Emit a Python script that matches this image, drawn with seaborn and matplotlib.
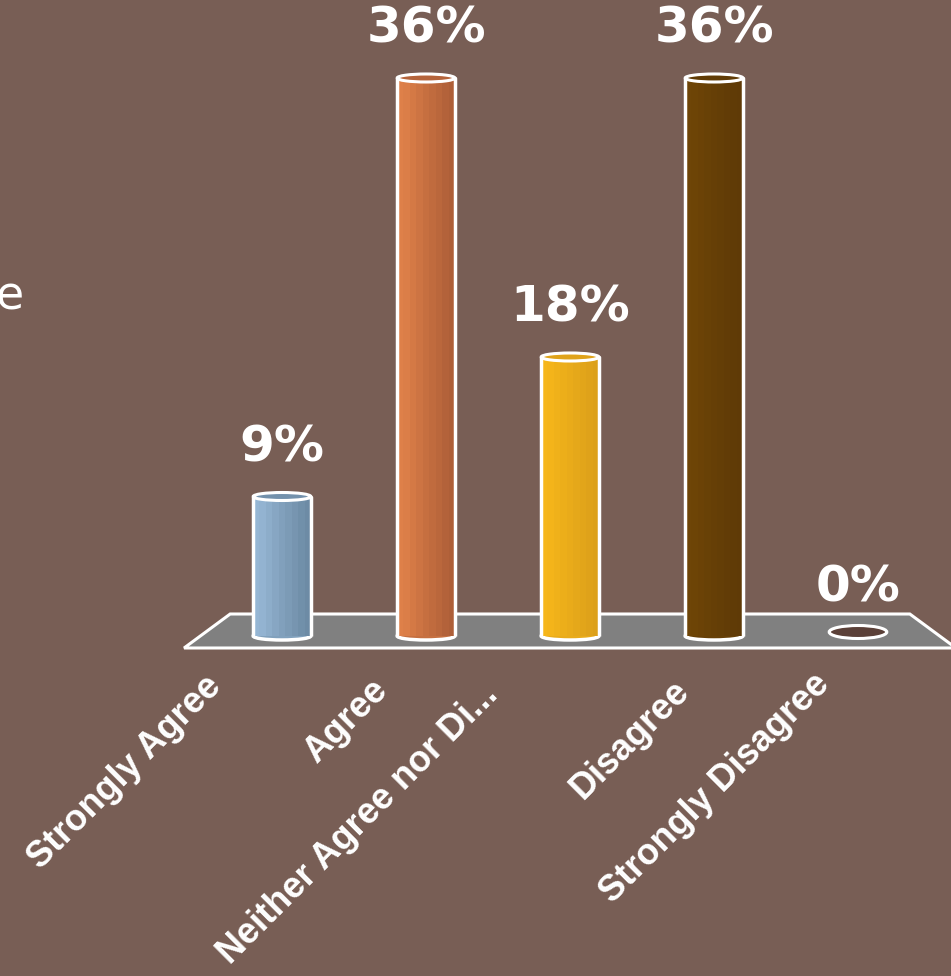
import numpy as np
import pandas as pd
import seaborn as sns
import matplotlib
matplotlib.use("Agg")
import matplotlib.pyplot as plt
import matplotlib.colors as mcolors
from matplotlib.patches import Polygon, Ellipse

# ---- data ----
categories = ["Strongly Agree", "Agree", "Neither Agree nor Di...", "Disagree", "Strongly Disagree"]
values = [9, 36, 18, 36, 0]
value_labels = ["9%", "36%", "18%", "36%", "0%"]
colors_light = ["#95b6d4", "#de8049", "#f6b61a", "#6e4507", "#5b4038"]
colors_dark = ["#6d8ba5", "#ae5f38", "#dca01a", "#5f3a06", "#5b4038"]

# ---- style / layout ----
BG = "#785E55"
FLOOR = "#808080"
W, H, DPI = 951, 976, 100
label_dx_px = [-78, -56, -90, -42, -46]   # staggered category label placement
label_dy_px = [-4, -8, -12, -8, -2]

sns.set_theme(style="white")
plt.rcParams['font.family'] = ['DejaVu Sans']

zero_px = 636.0
px_per = 15.5
axes_bottom_px = 665.0
first_px = 282.0
step_px = 144.0

fig = plt.figure(figsize=(W / DPI, H / DPI), dpi=DPI, facecolor=BG)
ax = fig.add_axes([0, 1 - axes_bottom_px / H, 1, axes_bottom_px / H])
ax.set_facecolor(BG)

df = pd.DataFrame({"cat": categories, "val": values})
sns.barplot(data=df, x="cat", y="val", hue="cat", palette=colors_light,
            width=0.4, legend=False, ax=ax, saturation=1, linewidth=0, zorder=3)
bars = list(ax.patches)

ax.set_xlim(-first_px / step_px, (W - first_px) / step_px)
ax.set_ylim(-(axes_bottom_px - zero_px) / px_per, zero_px / px_per)
ax.axis("off")

n = len(categories)
# floor of the 3D chart
floor_top = (zero_px - 614) / px_per
floor_bot = (zero_px - 648) / px_per
floor = Polygon([(-0.36, floor_top), (n - 1 + 0.36, floor_top),
                 (n - 1 + 0.68, floor_bot), (-0.68, floor_bot)],
                closed=True, facecolor=FLOOR, edgecolor="white", lw=2.2, zorder=1)
ax.add_patch(floor)

cap_h = 8.0 / px_per
for i, (bar, v) in enumerate(zip(bars, values)):
    x0 = bar.get_x()
    w = bar.get_width()
    x1 = x0 + w
    cx = x0 + w / 2
    if v <= 0:
        bar.set_visible(False)
        ell = Ellipse((cx, 4.0 / px_per), w, 13.0 / px_per, facecolor=colors_light[i],
                      edgecolor="white", lw=2.2, zorder=4)
        ax.add_patch(ell)
        continue
    c1 = np.array(mcolors.to_rgb(colors_light[i]))
    c2 = np.array(mcolors.to_rgb(colors_dark[i]))
    t = np.array([0.0, 0.05, 0.2, 0.35, 0.5, 0.62, 0.75, 0.88, 1.0])
    bands = c1[None, :] * (1 - t[:, None]) + c2[None, :] * t[:, None]
    img = ax.imshow(bands[None, :, :], extent=[x0, x1, 0, v], aspect="auto",
                    interpolation="nearest", zorder=3.5)
    img.set_clip_path(bar)
    mid = c1 * 0.5 + c2 * 0.5
    ax.add_patch(Ellipse((cx, 0), w, cap_h, facecolor=mid, edgecolor="white",
                         lw=2.5, zorder=3.2))
    ax.add_patch(Polygon([(x0, 0), (x0, v), (x1, v), (x1, 0)], closed=False,
                         fill=False, edgecolor="white", lw=2.5, joinstyle="round",
                         zorder=4))
    ax.add_patch(Ellipse((cx, v), w, cap_h, facecolor=c2 * 0.85 + c1 * 0.15,
                         edgecolor="white", lw=2.2, zorder=4.5))

pt = 72.0 / DPI
for i, (v, lab) in enumerate(zip(values, value_labels)):
    ax.annotate(lab, xy=(i, v), xytext=(0, 35 * pt), textcoords="offset points",
                ha="center", va="baseline", fontsize=36, fontweight="bold",
                color="white", zorder=6)

for i, cat in enumerate(categories):
    ax.annotate(cat, xy=(i, 0), xycoords=("data", "axes fraction"),
                xytext=(label_dx_px[i] * pt, label_dy_px[i] * pt), textcoords="offset points",
                rotation=45, rotation_mode="anchor", ha="right", va="top",
                fontsize=26, fontweight="bold", color="white",
                family=["Liberation Sans", "DejaVu Sans"],
                annotation_clip=False)

fig.text(24 / W, 1 - 310 / H, "e", ha="right", va="baseline", fontsize=33, color="white")

fig.savefig("out.png", dpi=DPI, facecolor=BG)
